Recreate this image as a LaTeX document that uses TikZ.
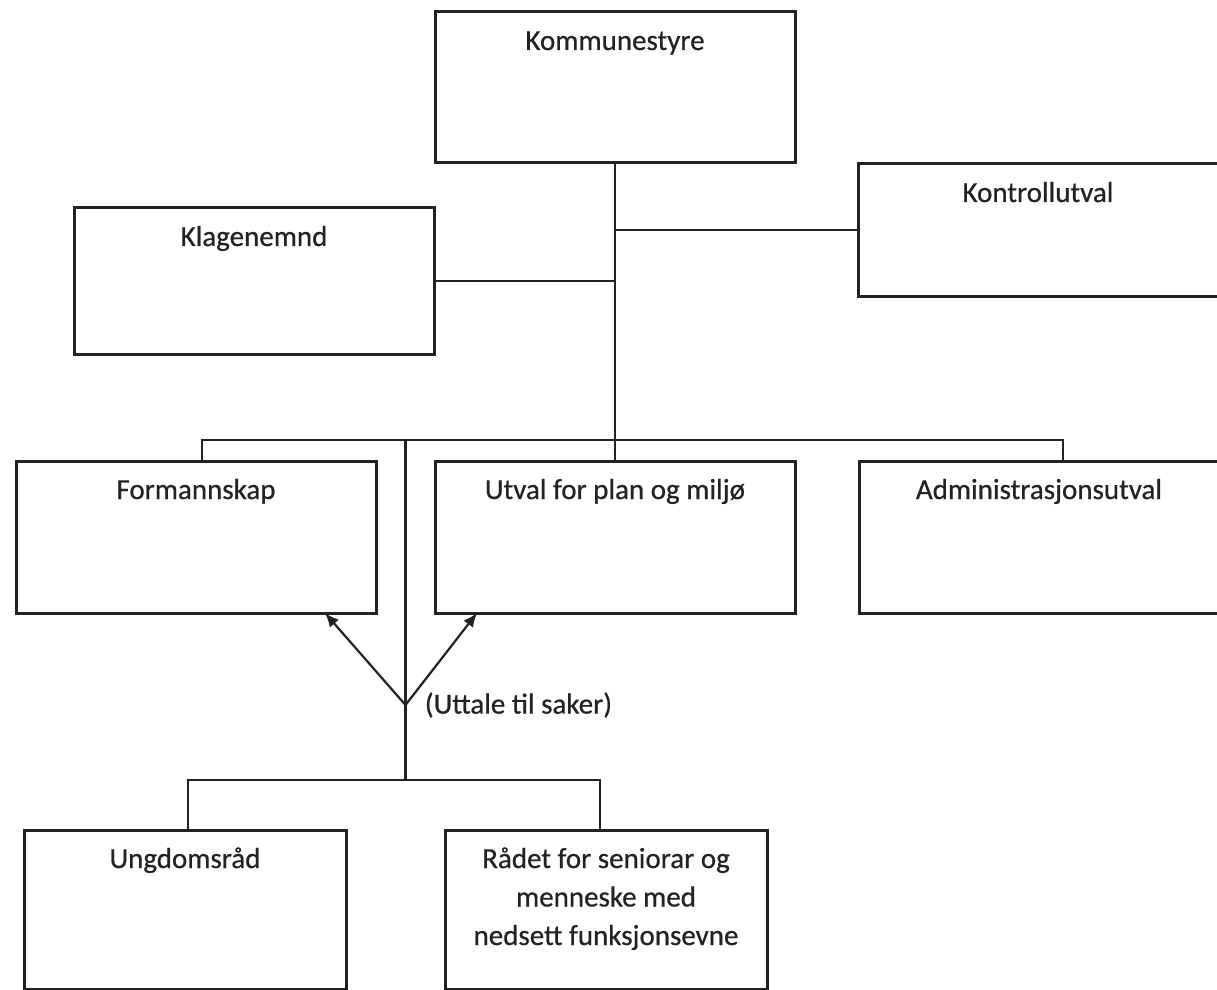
\documentclass[tikz,border=0pt]{standalone}
\usepackage{fontspec}
\setmainfont{Carlito}[FakeBold=0.6]
\usetikzlibrary{positioning, calc, arrows.meta}
\definecolor{ink}{HTML}{222222}

\begin{document}
\begin{tikzpicture}[
  unit/.style={rectangle, draw=ink, text=ink, line width=1.5pt, text width=180pt, align=flush center,
    inner sep=0pt, outer sep=0pt, text height=19pt, font=\fontsize{14.5pt}{19.25pt}\selectfont},
  link/.style={draw=ink, line width=1.1pt}]
\useasboundingbox (0,0) rectangle (608.5pt,-495pt);
\node[unit, text depth=56.5pt, anchor=north] (kommunestyre) at (307.5pt,-6pt) {Kommunestyre};
\node[unit, text depth=47pt, below right=0.5pt and 31.5pt of kommunestyre] (kontrollutval) {Kontrollutval};
\node[unit, text depth=54pt, below left=22.5pt and 0.5pt of kommunestyre] (klagenemnd) {Klagenemnd};
\node[unit, text depth=57pt, below=149pt of kommunestyre] (utval) {Utval for plan og miljø};
\node[unit, text depth=57pt, left=29.5pt of utval] (formannskap) {Formannskap};
\node[unit, text depth=57pt, right=32pt of utval] (administrasjonsutval) {Administrasjonsutval};
\node[unit, text depth=60.5pt, text width=161pt, below right=108.5pt and 5pt of utval.south west] (radet) {Rådet for seniorar og\\ menneske med\\ nedsett funksjonsevne};
\node[unit, text depth=60.5pt, text width=161pt, left=49.5pt of radet] (ungdomsrad) {Ungdomsråd};
\coordinate[above=10.5pt of utval.north] (hub);
\coordinate[above=25pt of radet.north] (fork);
\coordinate (saker) at ($(formannskap.south east)!0.5!(utval.south west) + (0,-46pt)$);
\draw[link] (kommunestyre.south) -- (utval.north);
\draw[link] (kontrollutval.west) -- (kontrollutval.west -| kommunestyre.south);
\draw[link] (klagenemnd.east) -- (klagenemnd.east -| kommunestyre.south);
\draw[link] ([xshift=3pt]formannskap.north) |- ([xshift=12pt]administrasjonsutval.north |- hub) -- ([xshift=12pt]administrasjonsutval.north);
\draw[link] (saker |- hub) -- (saker |- fork);
\draw[link] ([xshift=1.5pt]ungdomsrad.north) |- ([xshift=-3pt]radet.north |- fork) -- ([xshift=-3pt]radet.north);
\draw[link, -{Latex[length=7pt, width=6pt]}] (saker) -- ([xshift=-25.5pt]formannskap.south east);
\draw[link, -{Latex[length=7pt, width=6pt]}] (saker) -- ([xshift=21pt]utval.south west);
\node[right=9.5pt of saker, inner sep=0pt, text=ink, font=\fontsize{14.5pt}{19.25pt}\selectfont] (uttale) {(Uttale til saker)};
\end{tikzpicture}
\end{document}
